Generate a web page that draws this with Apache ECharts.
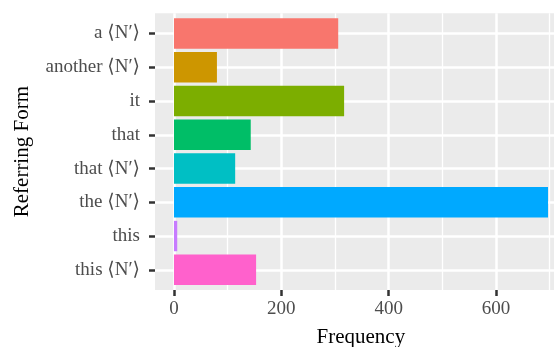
<!DOCTYPE html>
<html><head><meta charset="utf-8">
<script src="https://cdn.jsdelivr.net/npm/echarts@6/dist/echarts.min.js"></script>
<style>html,body{margin:0;padding:0;background:#fff}#c{width:554px;height:347px}</style>
</head><body><div id="c"></div>
<script>
var categories = ["a \u27e8N\u2032\u27e9", "another \u27e8N\u2032\u27e9", "it", "that", "that \u27e8N\u2032\u27e9", "the \u27e8N\u2032\u27e9", "this", "this \u27e8N\u2032\u27e9"];
var frequencies = [306, 80, 317, 143, 114, 697, 6, 153];
var barColors = ["#F8766D", "#CD9600", "#7CAE00", "#00BE67", "#00BFC4", "#00A9FF", "#C77CFF", "#FF61CC"];
var xTicks = [0, 200, 400, 600];

var FONT = "'Liberation Serif', 'DejaVu Serif', serif";
var chart = echarts.init(document.getElementById('c'), null, {renderer: 'canvas'});
var panelTop = 13.3, panelBottom = 57, panelLeft = 155, panelRight = -12.7;
var barTop = 33.5, barBottom = 77.2, zeroLeft = 174, zeroRight = -49.3;
function g(l, r, t, b, extra) {
  var o = {left: l, right: r, top: t, bottom: b, outerBoundsMode: 'none', containLabel: false};
  if (extra) for (var k in extra) o[k] = extra[k];
  return o;
}
chart.setOption({
  animation: false,
  backgroundColor: '#ffffff',
  grid: [
    g(panelLeft, panelRight, panelTop, panelBottom, {show: true, backgroundColor: '#EBEBEB', borderWidth: 0}),
    g(panelLeft, panelRight, barTop, barBottom),
    g(zeroLeft, zeroRight, panelTop, panelBottom),
    g(zeroLeft, zeroRight, barTop, barBottom)
  ],
  xAxis: [
    {gridIndex: 0, type: 'value', min: 0, max: 1, axisLine: {show: false}, axisTick: {show: false}, axisLabel: {show: false}, splitLine: {show: false},
     name: 'Frequency', nameLocation: 'middle', nameGap: 37, nameTextStyle: {fontFamily: FONT, fontSize: 21, color: '#000'}},
    {gridIndex: 1, type: 'value', min: 0, max: 1, show: false},
    {gridIndex: 2, type: 'value', min: 0, max: 800, interval: 200,
     axisLine: {show: false},
     axisTick: {show: true, length: 6, lineStyle: {color: '#333333', width: 2.5}},
     axisLabel: {show: true, margin: 10, fontFamily: FONT, fontSize: 19, color: '#4D4D4D',
       formatter: function (v) { return xTicks.indexOf(v) >= 0 ? String(v) : ''; }},
     splitLine: {show: true, lineStyle: {color: '#ffffff', width: 2.5}},
     minorTick: {show: false, splitNumber: 2},
     minorSplitLine: {show: true, lineStyle: {color: '#ffffff', width: 1.3}}},
    {gridIndex: 3, type: 'value', min: 0, max: 800, show: false}
  ],
  yAxis: [
    {gridIndex: 0, type: 'value', show: false},
    {gridIndex: 1, type: 'category', data: categories, inverse: true, boundaryGap: false,
     axisLine: {show: false},
     axisTick: {show: true, length: 6, lineStyle: {color: '#333333', width: 2.5}},
     axisLabel: {show: true, margin: 15, fontFamily: FONT, fontSize: 19, color: '#4D4D4D', interval: 0},
     splitLine: {show: true, interval: 0, lineStyle: {color: '#ffffff', width: 2.5}},
     name: 'Referring Form', nameLocation: 'middle', nameRotate: 90, nameGap: 122.5,
     nameTextStyle: {fontFamily: FONT, fontSize: 21, color: '#000'}},
    {gridIndex: 2, type: 'value', show: false},
    {gridIndex: 3, type: 'category', data: categories, inverse: true, boundaryGap: false, show: false}
  ],
  series: [{
    type: 'bar', xAxisIndex: 3, yAxisIndex: 3, clip: false, barWidth: 30.4,
    data: frequencies.map(function (v, i) { return {value: v, itemStyle: {color: barColors[i]}}; })
  }]
});
</script></body></html>
